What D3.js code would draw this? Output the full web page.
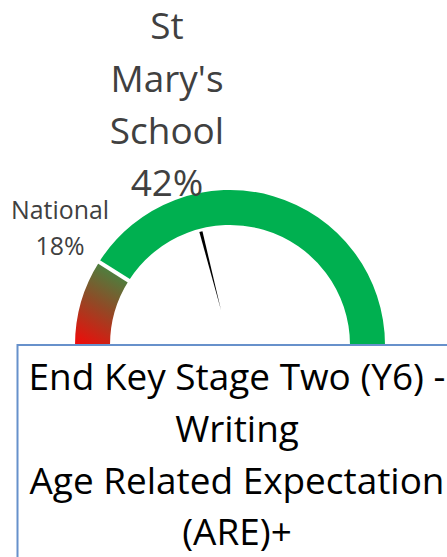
<!DOCTYPE html>
<html><head><meta charset="utf-8">
<script src="https://cdn.jsdelivr.net/npm/d3@7"></script>
<style>html,body{margin:0;padding:0;background:#fff;overflow:hidden}</style>
</head><body>
<svg id="c" width="447" height="557"></svg>
<script>
// ---- data ----
const segmentNames = ["National", "Rest"];
const segmentValues = [18, 82];
const schoolValue = 42;
const nationalValue = 18;
const titleLines = ["St", "Mary's", "School", "42%"];
const nationalLines = ["National", "18%"];
const boxLines = ["End Key Stage Two (Y6) -", "Writing", "Age Related Expectation", "(ARE)+"];

const W = 447, H = 557;
const svg = d3.select("#c");
const FONT = "'Open Sans', 'Noto Sans', sans-serif";

const cx = 230, cy = 345, rOuter = 155, rInner = 120;
const ang = d3.scaleLinear().domain([0, 100]).range([-Math.PI / 2, Math.PI / 2]);

const defs = svg.append("defs");
// gradient coordinates are relative to the gauge centre (the g's user space)
const grad = defs.append("linearGradient").attr("id", "natGrad")
  .attr("gradientUnits", "userSpaceOnUse")
  .attr("x1", -150).attr("y1", 0).attr("x2", -106).attr("y2", -78);
grad.append("stop").attr("offset", "0%").attr("stop-color", "#ee0c0a");
grad.append("stop").attr("offset", "50%").attr("stop-color", "#904a26");
grad.append("stop").attr("offset", "100%").attr("stop-color", "#3c8d45");

// arcs
const cum = d3.cumsum(segmentValues);
const segs = segmentValues.map((v, i) => ({ name: segmentNames[i], start: cum[i] - v, end: cum[i] }));
const arc = d3.arc().innerRadius(rInner).outerRadius(rOuter)
  .startAngle(d => ang(d.start)).endAngle(d => ang(d.end));
const g = svg.append("g").attr("transform", `translate(${cx},${cy})`);
g.selectAll("path.seg").data(segs).join("path").attr("class", "seg")
  .attr("d", arc)
  .attr("fill", (d, i) => i === 0 ? "url(#natGrad)" : "#00b050");

// white separator at national value
const polar = (r, a) => [r * Math.sin(a), -r * Math.cos(a)];
const sa = ang(nationalValue);
const p1 = polar(rInner - 3, sa), p2 = polar(rOuter + 3, sa);
g.append("line").attr("x1", p1[0]).attr("y1", p1[1]).attr("x2", p2[0]).attr("y2", p2[1])
  .attr("stroke", "#fff").attr("stroke-width", 4);

// needle
const na = ang(schoolValue);
const tip = polar(117, na), base = polar(36, na);
const perp = [Math.cos(na), Math.sin(na)];
const hw = 1.6;
g.append("path")
  .attr("d", `M${tip[0] + perp[0] * hw},${tip[1] + perp[1] * hw}L${tip[0] - perp[0] * hw},${tip[1] - perp[1] * hw}L${base[0]},${base[1]}Z`)
  .attr("fill", "#000");

// fit helper
function fitSize(text, target) {
  const t = svg.append("text").attr("font-family", FONT).attr("font-size", 100).text(text);
  const w = t.node().getComputedTextLength();
  t.remove();
  return 100 * target / w;
}

// title
const titleSize = fitSize("Mary's", 113);
const tBase = [39, 92, 144, 196];
svg.append("g").selectAll("text").data(titleLines).join("text")
  .attr("x", 167).attr("y", (d, i) => tBase[i])
  .attr("text-anchor", "middle").attr("font-family", FONT).attr("font-size", titleSize)
  .attr("fill", "#404040").text(d => d);

// national label
const natSize = fitSize("National", 98);
const nBase = [219, 255];
svg.append("g").selectAll("text").data(nationalLines).join("text")
  .attr("x", 60).attr("y", (d, i) => nBase[i])
  .attr("text-anchor", "middle").attr("font-family", FONT).attr("font-size", natSize)
  .attr("fill", "#404040").text(d => d);

// box
svg.append("rect").attr("x", 17.5).attr("y", 345).attr("width", 440).attr("height", 260)
  .attr("fill", "#fff").attr("stroke", "#6791cb").attr("stroke-width", 2);
const boxSize = fitSize(boxLines[0], 417);
const bBase = [390, 442, 494, 545];
svg.append("g").selectAll("text").data(boxLines).join("text")
  .attr("x", 237).attr("y", (d, i) => bBase[i])
  .attr("text-anchor", "middle").attr("font-family", FONT).attr("font-size", boxSize)
  .attr("fill", "#000").text(d => d);
</script>
</body></html>
